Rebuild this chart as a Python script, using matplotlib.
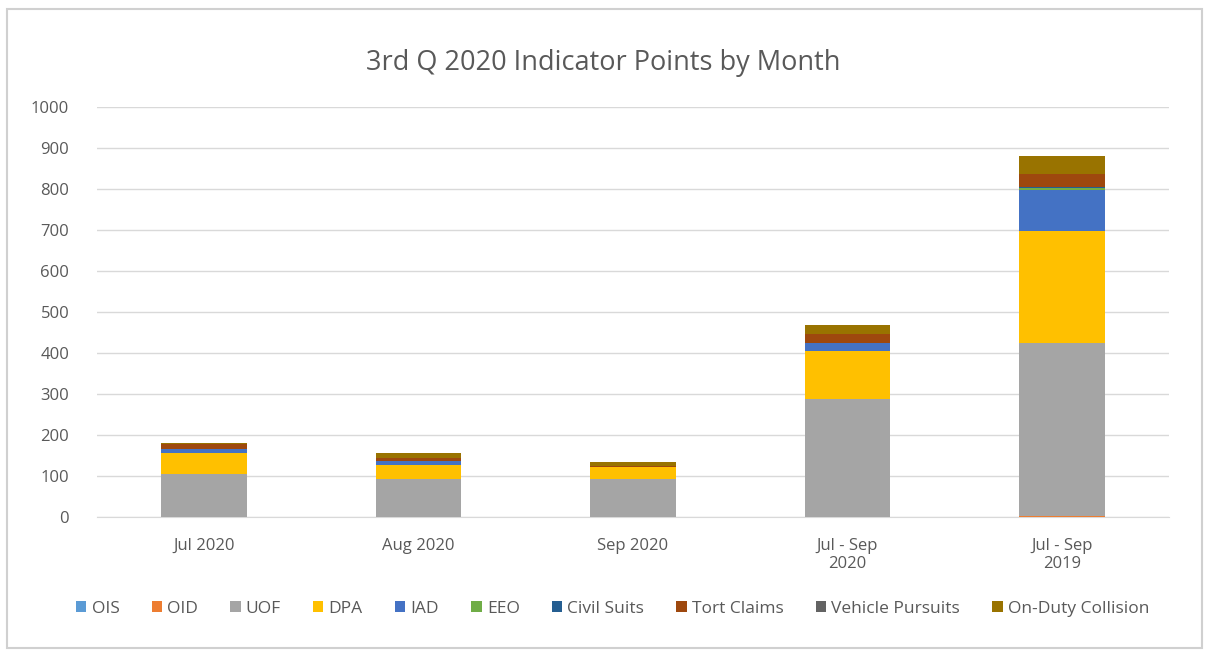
import matplotlib
matplotlib.use('Agg')
import matplotlib.pyplot as plt
from matplotlib.patches import Rectangle
import numpy as np

plt.rcParams['font.family'] = ['Open Sans', 'DejaVu Sans']

categories = ['Jul 2020', 'Aug 2020', 'Sep 2020', 'Jul - Sep\n2020', 'Jul - Sep\n2019']
series_names = ['OIS', 'OID', 'UOF', 'DPA', 'IAD', 'EEO', 'Civil Suits',
                'Tort Claims', 'Vehicle Pursuits', 'On-Duty Collision']

ois = [0, 0, 0, 0, 0]
oid = [0, 0, 0, 0, 3]
uof = [105, 92, 92, 287, 422]
dpa = [50, 36, 31, 119, 273]
iad = [12, 8, 0, 19, 100]
eeo = [0, 0, 0, 0, 4]
civil = [0, 0, 0, 0, 2]
tort = [10, 9, 2, 21, 32]
pursuits = [0, 0, 0, 0, 0]
collision = [4, 10, 9, 23, 45]

series = [ois, oid, uof, dpa, iad, eeo, civil, tort, pursuits, collision]

COLORS = ['#5b9bd5', '#ed7d31', '#a5a5a5', '#ffc000', '#4472c4',
          '#70ad47', '#255e91', '#9e480e', '#636363', '#997300']

TEXT = '#595959'

fig = plt.figure(figsize=(12.06, 6.53), dpi=100)
fig.patch.set_facecolor('white')

# рамка диаграммы
fig.patches.append(Rectangle((7 / 1206, 5 / 653), 1195 / 1206, 639 / 653,
                             transform=fig.transFigure, fill=False,
                             edgecolor='#d0d0d0', linewidth=1.5))

ax = fig.add_axes([97 / 1206, 136 / 653, 1072 / 1206, 410 / 653])

x = np.arange(len(categories))
bottom = np.zeros(len(categories))
handles = []
for name, vals, col in zip(series_names, series, COLORS):
    vals = np.array(vals, dtype=float)
    b = ax.bar(x, vals, width=0.4, bottom=bottom, color=col, label=name,
               edgecolor='none', zorder=3)
    handles.append(b)
    bottom += vals

ax.set_xlim(-0.5, 4.5)
ax.set_ylim(0, 1000)
ax.set_yticks(range(0, 1001, 100))
ax.set_xticks(x)
ax.set_xticklabels(categories)
ax.grid(axis='y', color='#d9d9d9', linewidth=1, zorder=0)
ax.set_axisbelow(True)
for s in ['top', 'right', 'left']:
    ax.spines[s].set_visible(False)
ax.spines['bottom'].set_color('#d9d9d9')
ax.tick_params(axis='both', length=0, colors=TEXT, labelsize=12)
ax.tick_params(axis='x', pad=15)
ax.tick_params(axis='y', pad=20)

fig.text(0.5, 1 - 63 / 653, '3rd Q 2020 Indicator Points by Month',
         ha='center', va='center', fontsize=19.5, color=TEXT)

leg = fig.legend(handles=handles, labels=series_names, loc='center',
                 bbox_to_anchor=(0.508, 1 - 609 / 653), ncol=10, frameon=False,
                 fontsize=12.5, handlelength=0.6, handleheight=0.6,
                 handletextpad=0.3, columnspacing=1.85)
for t in leg.get_texts():
    t.set_color(TEXT)

plt.savefig('out.png', dpi=100, facecolor='white')
plt.close()
